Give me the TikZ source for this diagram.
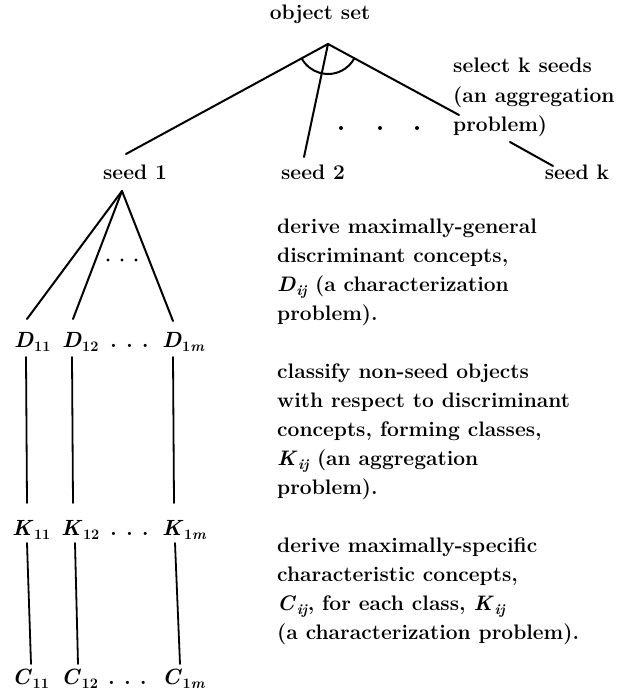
\documentclass[tikz,border=0pt]{standalone}
\usepackage{fontspec}
\usetikzlibrary{calc}
\newcommand{\sublab}[2]{\textit{#1}\kern0.5pt\raisebox{-0.22em}{\fontsize{14.5}{14.5}\selectfont #2}}
\tikzset{
  lbl/.style={inner sep=0pt, font=\fontsize{21}{29}\selectfont\bfseries},
  txt/.style={lbl, anchor=base west},
  mlbl/.style={inner sep=0pt, anchor=base west, font=\fontsize{22}{29}\selectfont\bfseries},
  ln/.style={line width=2pt, line cap=round},
  vln/.style={line width=1.8pt, line cap=round},
  dotmark/.style={fill=black}
}
\begin{document}
\begin{tikzpicture}[x=1pt,y=-1pt]
\useasboundingbox (0,0) rectangle (634,693);
\fill[white] (0,0) rectangle (634,693);

% top level
\node[lbl, anchor=base] (obj) at (320,20) {object set};
\node[lbl, anchor=base] (s1) at (135,179) {seed 1};
\node[lbl, anchor=base] (s2) at (313,179) {seed 2};
\node[lbl, anchor=base] (sk) at (577,179) {seed k};
\node[txt] (sel1) at (453,73) {select k seeds};
\node[txt] (sel2) at (453,102) {(an aggregation};
\node[txt] (sel3) at (453,131) {problem)};

\coordinate (apex) at (328,44);
\coordinate (e1) at (126,154);
\coordinate (e2) at (304,157);
\coordinate (e3) at (459,115);
\draw[ln] (e1) -- (apex) -- (e3);
\draw[ln] (apex) -- (e2);
\draw[ln] ($(apex)!30pt!(e1)$) arc[start angle=208.57, end angle=331.54, radius=30pt];
\foreach \x in {341,380,417} \fill[dotmark] (\x,128) circle[radius=2pt];
\coordinate (pk) at (510,142);
\coordinate (skt) at (553,166);
\draw[ln] (pk) -- (skt);

% seed 1 subtree
\coordinate (a1) at (122,191);
\coordinate (d1t) at (27,319);
\coordinate (d2t) at (73,319);
\coordinate (dmt) at (173,321);
\draw[ln] (a1) -- (d1t);
\draw[ln] (a1) -- (d2t);
\draw[ln] (a1) -- (dmt);
\foreach \x in {108,122,136} \fill[dotmark] (\x,260) circle[radius=1.7pt];

\node[mlbl] (D11) at (14,347) {\sublab{D}{11}};
\node[mlbl] (D12) at (62,347) {\sublab{D}{12}};
\node[mlbl] (Ddots) at (110,347) {.\hspace{9pt}.\hspace{9pt}.};
\node[mlbl] (D1m) at (162,347) {\sublab{D}{1\textit{m}}};

\node[mlbl] (K11) at (12,535) {\sublab{K}{11}};
\node[mlbl] (K12) at (61,535) {\sublab{K}{12}};
\node[mlbl] (Kdots) at (110,535) {.\hspace{9pt}.\hspace{9pt}.};
\node[mlbl] (K1m) at (162,535) {\sublab{K}{1\textit{m}}};

\node[mlbl] (C11) at (12,684) {\sublab{C}{11}};
\node[mlbl] (C12) at (61,684) {\sublab{C}{12}};
\node[mlbl] (Cdots) at (108,684) {.\hspace{9pt}.\hspace{9pt}.};
\node[mlbl] (C1m) at (162,684) {\sublab{C}{1\textit{m}}};

\coordinate (dk1a) at (26,357); \coordinate (dk1b) at (27,503);
\coordinate (dk2a) at (72,357); \coordinate (dk2b) at (73,503);
\coordinate (dkma) at (173,357); \coordinate (dkmb) at (174,503);
\draw[vln] (dk1a) -- (dk1b);
\draw[vln] (dk2a) -- (dk2b);
\draw[vln] (dkma) -- (dkmb);
\coordinate (kc1a) at (27,543); \coordinate (kc1b) at (31,664);
\coordinate (kc2a) at (75,543); \coordinate (kc2b) at (78,664);
\coordinate (kcma) at (175,543); \coordinate (kcmb) at (180,664);
\draw[vln] (kc1a) -- (kc1b);
\draw[vln] (kc2a) -- (kc2b);
\draw[vln] (kcma) -- (kcmb);

% right-hand descriptions
\node[txt] (b1a) at (277,233) {derive maximally-general};
\node[txt] (b1b) at (277,262) {discriminant concepts,};
\node[txt] (b1c) at (277,291) {\sublab{D}{\textit{ij}} (a characterization};
\node[txt] (b1d) at (277,320) {problem).};

\node[txt] (b2a) at (277,378) {classify non-seed objects};
\node[txt] (b2b) at (277,407) {with respect to discriminant};
\node[txt] (b2c) at (277,436) {concepts, forming classes,};
\node[txt] (b2d) at (277,465) {\sublab{K}{\textit{ij}} (an aggregation};
\node[txt] (b2e) at (277,494) {problem).};

\node[txt] (b3a) at (277,552) {derive maximally-specific};
\node[txt] (b3b) at (277,581) {characteristic concepts,};
\node[txt] (b3c) at (277,610) {\sublab{C}{\textit{ij}}, for each class, \sublab{K}{\textit{ij}}};
\node[txt] (b3d) at (277,639) {(a characterization problem).};
\end{tikzpicture}
\end{document}
